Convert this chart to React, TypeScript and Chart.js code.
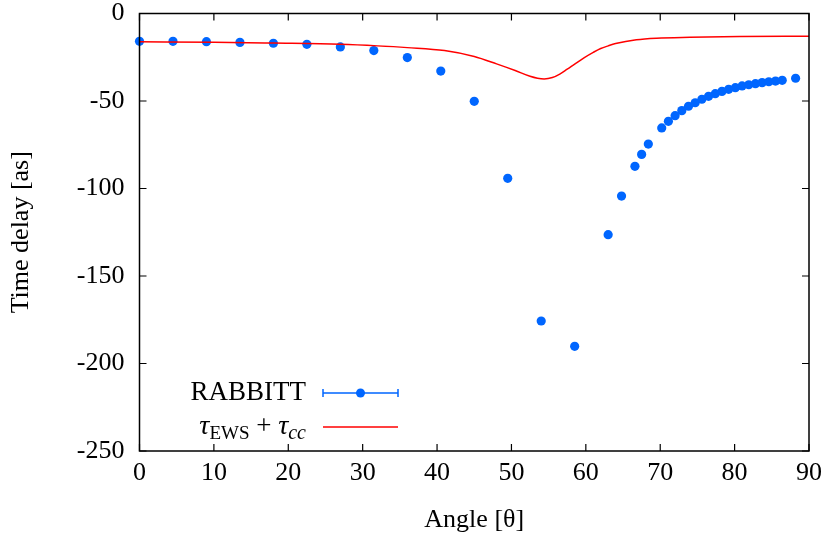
import React, { useEffect, useRef } from "react";
import { Chart, registerables } from "chart.js";

Chart.register(...registerables);

const rabbittAngles = [0, 4.5, 9, 13.5, 18, 22.5, 27, 31.5, 36, 40.5, 45, 49.5, 54, 58.5, 63, 64.8, 66.6, 67.5, 68.4, 70.2, 71.1, 72, 72.9, 73.8, 74.7, 75.6, 76.5, 77.4, 78.3, 79.2, 80.1, 81, 81.9, 82.8, 83.7, 84.6, 85.5, 86.4, 88.2];
const rabbittDelays = [-15.9, -15.9, -16.1, -16.5, -17.0, -17.6, -19.1, -21.2, -25.2, -32.9, -50.2, -94.2, -175.7, -190.2, -126.4, -104.3, -87.3, -80.5, -74.6, -65.4, -61.6, -58.4, -55.5, -53.0, -51.0, -49.0, -47.3, -45.8, -44.5, -43.3, -42.4, -41.4, -40.7, -40.1, -39.5, -39.0, -38.6, -38.2, -37.0];

const curveAngles = [0, 10, 18, 27, 32, 36, 41, 45, 48, 50.5, 52.5, 53.5, 54.4, 55.5, 56.5, 57.5, 58.5, 59.8, 61, 62, 63, 64, 66.8, 69.5, 74, 80.7, 90];
const curveDelays = [-16.2, -16.4, -16.9, -17.6, -18.5, -19.5, -21.2, -24.6, -28.8, -32.6, -35.9, -37.0, -37.4, -36.6, -34.6, -31.8, -28.9, -25.2, -22.2, -20.0, -18.5, -17.2, -15.0, -14.1, -13.6, -13.2, -13.0];

const xTickValues = [0, 10, 20, 30, 40, 50, 60, 70, 80, 90];
const yTickValues = [0, -50, -100, -150, -200, -250];

const legendLabels = ["RABBITT"];

const FONT = "Liberation Serif";
const BLUE = "#0066ff";
const RED = "#ff0000";

const framePlugin = {
  id: "frame",
  afterDraw(chart: any) {
    const { ctx, chartArea: a, scales } = chart;
    const xs = scales.x;
    const ys = scales.y;
    ctx.save();
    ctx.strokeStyle = "#000";
    ctx.lineWidth = 1.5;
    ctx.strokeRect(a.left, a.top, a.right - a.left, a.bottom - a.top);
    ctx.lineWidth = 1.2;
    const tl = 7;
    ctx.beginPath();
    xTickValues.forEach((v) => {
      const px = xs.getPixelForValue(v);
      ctx.moveTo(px, a.bottom);
      ctx.lineTo(px, a.bottom - tl);
      ctx.moveTo(px, a.top);
      ctx.lineTo(px, a.top + tl);
    });
    yTickValues.forEach((v) => {
      const py = ys.getPixelForValue(v);
      ctx.moveTo(a.left, py);
      ctx.lineTo(a.left + tl, py);
      ctx.moveTo(a.right, py);
      ctx.lineTo(a.right - tl, py);
    });
    ctx.stroke();

    // legend
    const textRight = 306;
    const lx0 = 323;
    const lx1 = 398;
    const row1 = 393;
    const row2 = 427;
    ctx.fillStyle = "#000";
    ctx.textBaseline = "middle";
    ctx.textAlign = "right";
    ctx.font = `27px "${FONT}"`;
    ctx.fillText(legendLabels[0], textRight, row1);

    ctx.strokeStyle = BLUE;
    ctx.lineWidth = 1.5;
    ctx.beginPath();
    ctx.moveTo(lx0, row1);
    ctx.lineTo(lx1, row1);
    ctx.moveTo(lx0, row1 - 4);
    ctx.lineTo(lx0, row1 + 4);
    ctx.moveTo(lx1, row1 - 4);
    ctx.lineTo(lx1, row1 + 4);
    ctx.stroke();
    ctx.fillStyle = BLUE;
    ctx.beginPath();
    ctx.arc((lx0 + lx1) / 2, row1, 4.5, 0, Math.PI * 2);
    ctx.fill();

    // tau_EWS + tau_cc
    const parts = [
      { t: "τ", f: `italic 28px "${FONT}"`, dy: 0 },
      { t: "EWS", f: `19px "${FONT}"`, dy: 5 },
      { t: " + ", f: `27px "${FONT}"`, dy: 0 },
      { t: "τ", f: `italic 28px "${FONT}"`, dy: 0 },
      { t: "cc", f: `italic 20px "${FONT}"`, dy: 5 },
    ];
    let total = 0;
    parts.forEach((p) => {
      ctx.font = p.f;
      total += ctx.measureText(p.t).width;
    });
    let x = textRight - total;
    ctx.textAlign = "left";
    ctx.fillStyle = "#000";
    ctx.textBaseline = "alphabetic";
    const base = row2 + 7;
    parts.forEach((p) => {
      ctx.font = p.f;
      ctx.fillText(p.t, x, base + p.dy);
      x += ctx.measureText(p.t).width;
    });
    ctx.strokeStyle = RED;
    ctx.lineWidth = 1.5;
    ctx.beginPath();
    ctx.moveTo(lx0, row2);
    ctx.lineTo(lx1, row2);
    ctx.stroke();
    ctx.restore();
  },
};

export default function App() {
  const ref = useRef<HTMLCanvasElement | null>(null);
  useEffect(() => {
    document.body.style.margin = "0";
    const canvas = ref.current;
    if (!canvas) return;
    const chart = new Chart(canvas, {
      type: "scatter",
      data: {
        datasets: [
          {
            label: "tau",
            data: curveAngles.map((a, i) => ({ x: a, y: curveDelays[i] })),
            showLine: true,
            borderColor: RED,
            borderWidth: 1.5,
            pointRadius: 0,
            cubicInterpolationMode: "monotone",
            order: 0,
          } as any,
          {
            label: "RABBITT",
            data: rabbittAngles.map((a, i) => ({ x: a, y: rabbittDelays[i] })),
            showLine: false,
            backgroundColor: BLUE,
            borderColor: BLUE,
            borderWidth: 0,
            pointRadius: 4.6,
            clip: false,
            order: 1,
          } as any,
        ],
      },
      options: {
        responsive: false,
        animation: false,
        layout: { padding: { top: 13.5, right: 20, left: 0, bottom: 0 } },
        plugins: { legend: { display: false }, tooltip: { enabled: false } },
        scales: {
          x: {
            type: "linear",
            min: 0,
            max: 90,
            afterBuildTicks: (s: any) => {
              s.ticks = xTickValues.map((v) => ({ value: v }));
            },
            ticks: { color: "#000", font: { family: FONT, size: 26 }, padding: 7, maxRotation: 0 },
            grid: { display: false, drawTicks: false },
            border: { display: false },
            title: {
              display: true,
              text: "Angle [θ]",
              color: "#000",
              font: { family: FONT, size: 26 },
              padding: { top: 0, bottom: 6 },
            },
            afterFit: (s: any) => {
              s.height = 91;
              s.paddingLeft = 0;
              s.paddingRight = 0;
            },
          },
          y: {
            type: "linear",
            min: -250,
            max: 0,
            afterBuildTicks: (s: any) => {
              s.ticks = yTickValues.slice().reverse().map((v) => ({ value: v }));
            },
            ticks: { color: "#000", font: { family: FONT, size: 26 }, padding: 15 },
            grid: { display: false, drawTicks: false },
            border: { display: false },
            title: {
              display: true,
              text: "Time delay [as]",
              color: "#000",
              font: { family: FONT, size: 26 },
              padding: { top: 6, bottom: 0 },
            },
            afterFit: (s: any) => {
              s.width = 139.5;
              s.paddingTop = 0;
              s.paddingBottom = 0;
            },
          },
        },
      },
      plugins: [framePlugin],
    });
    return () => chart.destroy();
  }, []);
  return <canvas ref={ref} width={829} height={542} style={{ display: "block" }} />;
}
